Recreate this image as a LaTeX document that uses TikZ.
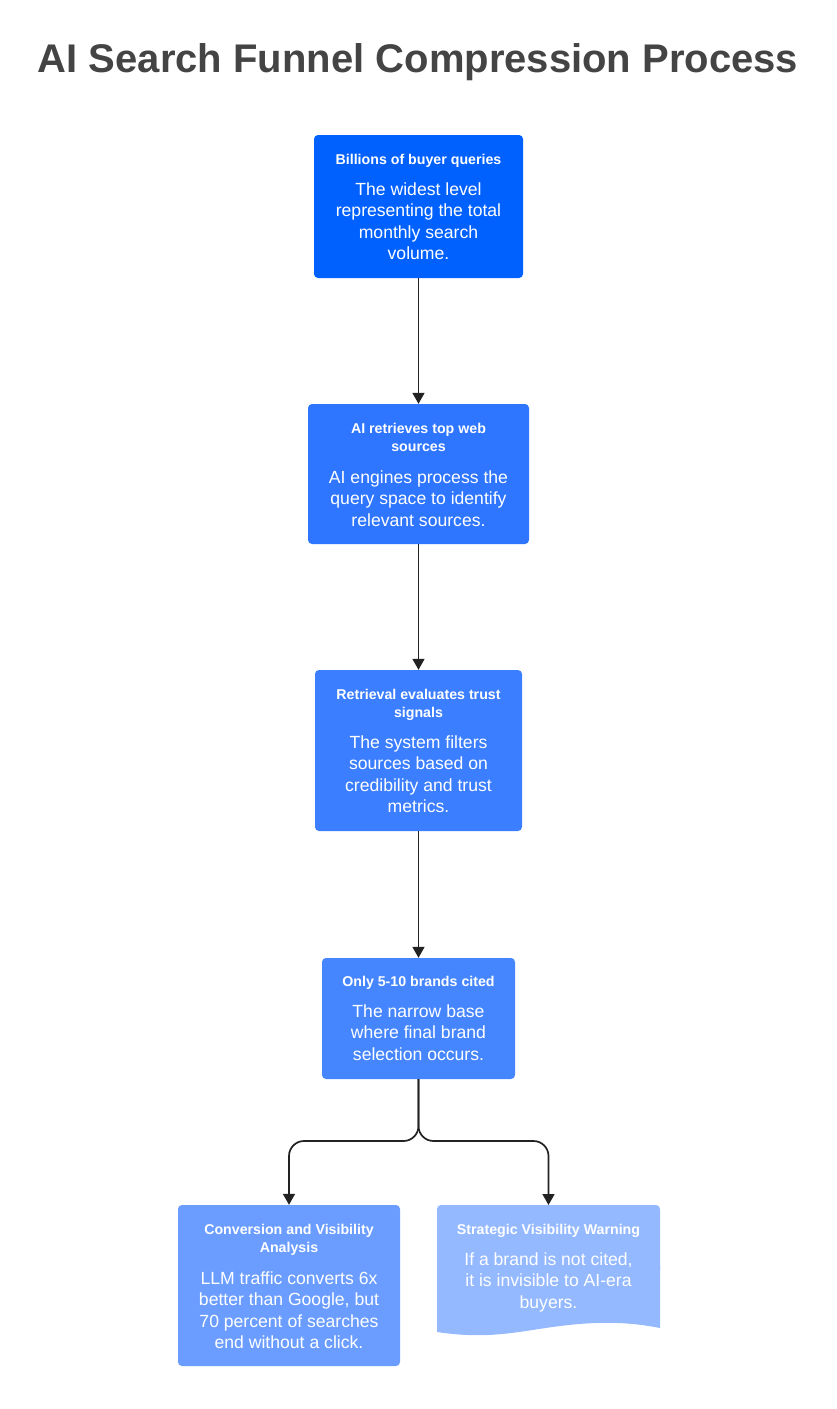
\documentclass[tikz,border=0pt]{standalone}
\usepackage{fontspec}
\setmainfont{Liberation Sans}
\usetikzlibrary{arrows.meta}
\definecolor{cA}{HTML}{0061FF}
\definecolor{cB}{HTML}{2E75FF}
\definecolor{cC}{HTML}{3B7EFF}
\definecolor{cD}{HTML}{4586FF}
\definecolor{cE}{HTML}{6A9DFF}
\definecolor{cF}{HTML}{94B9FF}
\definecolor{ttl}{HTML}{444444}
\definecolor{ln}{HTML}{222222}
\tikzset{
  box/.style={draw=none, rounded corners=4pt, inner sep=0pt},
  ttext/.style={text=white, align=center, inner sep=0pt, anchor=base, font=\fontsize{14.2}{18}\selectfont\bfseries},
  btext/.style={text=white, align=center, inner sep=0pt, anchor=base, font=\fontsize{17.6}{21.6}\selectfont},
  conn/.style={draw=ln, line width=1.7pt, -{Triangle[length=11pt,width=12pt]}},
}
\begin{document}
\begin{tikzpicture}[x=1pt,y=-1pt]
\useasboundingbox (0,0) rectangle (837,1409);
\fill[white] (0,0) rectangle (837,1409);
\node[text=ttl, anchor=base, inner sep=0pt, font=\fontsize{40}{46}\selectfont\bfseries] (title) at (418,72) {AI Search Funnel Compression Process};

% boxes
\node[box, fill=cA, minimum width=209pt, minimum height=143pt] (b1) at (418.5,206.5) {};
\node[box, fill=cB, minimum width=221pt, minimum height=140pt] (b2) at (418.5,474) {};
\node[box, fill=cC, minimum width=207pt, minimum height=161pt] (b3) at (418.5,750.5) {};
\node[box, fill=cD, minimum width=193pt, minimum height=121pt] (b4) at (418.5,1018.5) {};
\node[box, fill=cE, minimum width=222pt, minimum height=161pt] (b5) at (289,1285.5) {};
\coordinate (b6n) at (548.5,1205);
\fill[cF, rounded corners=4pt] (437,1270) -- (437,1205) -- (660,1205) -- (660,1270);
\fill[cF] (437,1265) -- (660,1265) -- (660,1328)
  .. controls (630,1322) and (600,1321) .. (560,1326)
  .. controls (520,1331) and (490,1340) .. (437,1332) -- cycle;

% texts (anchor = baseline of last line)
\node[ttext] (t1) at (418.5,164) {Billions of buyer queries};
\node[btext] (d1) at (418.5,259.8) {The widest level\\representing the total\\monthly search\\volume.};
\node[ttext] (t2) at (418.5,451) {AI retrieves top web\\sources};
\node[btext] (d2) at (418.5,526.2) {AI engines process the\\query space to identify\\relevant sources.};
\node[ttext] (t3) at (418.5,717) {Retrieval evaluates trust\\signals};
\node[btext] (d3) at (418.5,812.8) {The system filters\\sources based on\\credibility and trust\\metrics.};
\node[ttext] (t4) at (418.5,986) {Only 5-10 brands cited};
\node[btext] (d4) at (418.5,1060.2) {The narrow base\\where final brand\\selection occurs.};
\node[ttext] (t5) at (289,1252) {Conversion and Visibility\\Analysis};
\node[btext] (d5) at (289,1348.8) {LLM traffic converts 6x\\better than Google, but\\70 percent of searches\\end without a click.};
\node[ttext] (t6) at (548.5,1234) {Strategic Visibility Warning};
\node[btext] (d6) at (548.5,1308.2) {If a brand is not cited,\\it is invisible to AI-era\\buyers.};

% connectors
\draw[conn] (b1.south) -- (b2.north);
\draw[conn] (b2.south) -- (b3.north);
\draw[conn] (b3.south) -- (b4.north);
\coordinate (fork) at (418.5,1141);
\draw[conn, rounded corners=15pt] (b4.south) -- (fork) -- (b5.north |- fork) -- (b5.north);
\draw[conn, rounded corners=15pt] (b4.south) -- (fork) -- (b6n |- fork) -- (b6n);
\end{tikzpicture}
\end{document}
